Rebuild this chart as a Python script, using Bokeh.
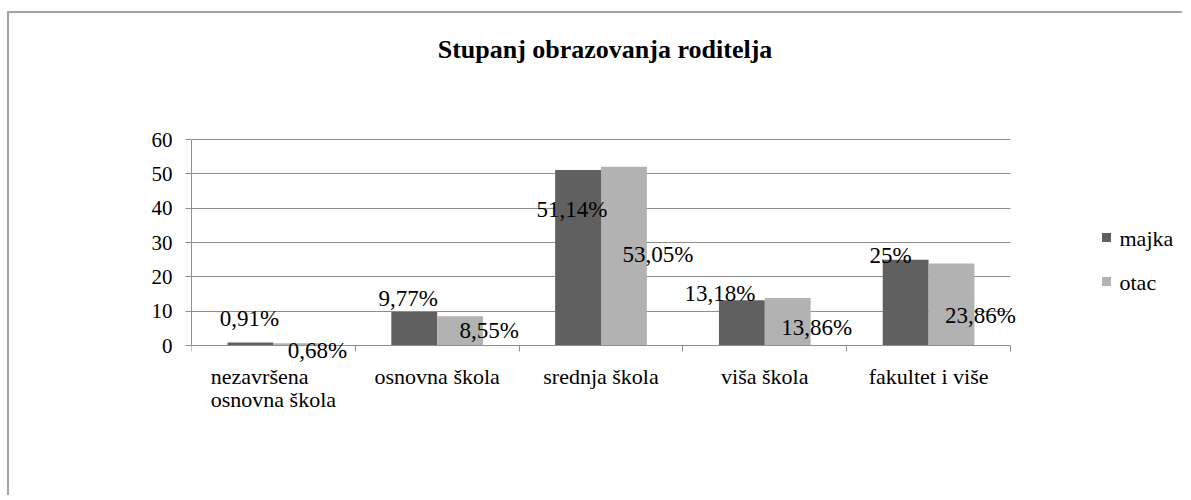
from bokeh.plotting import figure
from bokeh.models import (ColumnDataSource, FixedTicker, Label, LabelSet, Range1d, Grid)
from bokeh.embed import file_html
from bokeh.resources import INLINE

# ---- data ----
categories = ["nezavršena\nosnovna škola", "osnovna škola", "srednja škola",
              "viša škola", "fakultet i više"]
majka = [0.91, 9.77, 51.14, 13.18, 25.0]
otac = [0.68, 8.55, 52.05, 13.86, 23.86]
majka_labels = ["0,91%", "9,77%", "51,14%", "13,18%", "25%"]
otac_labels = ["0,68%", "8,55%", "53,05%", "13,86%", "23,86%"]
series_names = ["majka", "otac"]
y_ticks = [0, 10, 20, 30, 40, 50, 60]

# ---- layout constants (data-label placement as in the original) ----
majka_label_y = [5.8, 11.65, 37.3, 13.1, 23.9]      # baseline, data units
otac_label_y = [-3.5, 2.33, 24.2, 3.2, 6.7]
majka_label_dx = [-1, -6, -6, -22, -15]              # px from bar centre
otac_label_dx = [21, 29, 34, 29, 29]

SERIF = "'Liberation Serif', 'Times New Roman', serif"
SANS = "'Liberation Sans', Arial, sans-serif"
C_MAJKA = "#606060"
C_OTAC = "#b2b2b2"
colors = [C_MAJKA, C_OTAC]
GRID = "#8e8e8e"

n = len(categories)
centers = [i + 0.5 for i in range(n)]
x_m = [c - 0.14 for c in centers]
x_o = [c + 0.14 for c in centers]

W, H = 1175, 484
LEFT = 182
px_per_x = 163.8
px_per_y = 206 / 60
x_max = (W - LEFT) / px_per_x

p = figure(width=W, height=H, output_backend="svg", toolbar_location=None,
           x_range=Range1d(0, x_max), y_range=Range1d(-44.27, 96.70),
           min_border_left=LEFT, min_border_top=0, min_border_right=0,
           min_border_bottom=0)
p.styles = {"border-top": "2px solid #a3a3a3", "border-left": "2px solid #a3a3a3",
            "margin-left": "7px", "margin-top": "11px"}
p.outline_line_color = None
p.background_fill_color = "white"

src = ColumnDataSource(dict(xm=x_m, xo=x_o, majka=majka, otac=otac,
                            ml=majka_labels, ol=otac_labels,
                            mly=majka_label_y, oly=otac_label_y,
                            mdx=majka_label_dx, odx=otac_label_dx))

p.vbar(x="xm", top="majka", width=0.28, source=src, fill_color=C_MAJKA,
       line_color=None)
p.vbar(x="xo", top="otac", width=0.28, source=src, fill_color=C_OTAC,
       line_color=None)

# grid
p.xgrid.visible = False
p.ygrid.ticker = FixedTicker(ticks=y_ticks[1:])
p.ygrid.grid_line_color = GRID
p.ygrid.grid_line_width = 1
if "cross_bounds" in Grid.properties():
    p.ygrid.cross_bounds = (0, n)

# y axis
p.yaxis.ticker = FixedTicker(ticks=y_ticks)
p.yaxis.bounds = (0, 60)
p.yaxis.axis_line_color = GRID
p.yaxis.major_tick_line_color = GRID
p.yaxis.major_tick_out = 6
p.yaxis.major_tick_in = 0
p.yaxis.minor_tick_line_color = None
p.yaxis.major_label_text_font = SERIF
p.yaxis.major_label_text_font_size = "21px"
p.yaxis.major_label_text_color = "black"
p.yaxis.major_label_standoff = 13

# x axis (category boundaries as ticks; category names drawn below)
p.xaxis.fixed_location = 0
p.xaxis.bounds = (0, n)
p.xaxis.ticker = FixedTicker(ticks=[], minor_ticks=list(range(n + 1)))
p.xaxis.axis_line_color = GRID
p.xaxis.major_tick_line_color = None
p.xaxis.minor_tick_line_color = GRID
p.xaxis.minor_tick_out = 6
p.xaxis.minor_tick_in = 0

cat_src = ColumnDataSource(dict(x=centers, y=[-5.3] * n, text=categories))
p.add_layout(LabelSet(x="x", y="y", text="text", source=cat_src,
                      text_align="center", text_baseline="top",
                      text_line_height=0.95,
                      text_font=SERIF, text_font_size="22px", text_color="black"))

# data labels
p.add_layout(LabelSet(x="xm", y="mly", text="ml", source=src, x_offset="mdx",
                      text_align="center", text_baseline="alphabetic",
                      text_font=SANS, text_font_size="23px", text_color="black"))
p.add_layout(LabelSet(x="xo", y="oly", text="ol", source=src, x_offset="odx",
                      text_align="center", text_baseline="alphabetic",
                      text_font=SANS, text_font_size="23px", text_color="black"))

# title
p.add_layout(Label(x=n / 2, y=86.2, x_offset=4, text="Stupanj obrazovanja roditelja",
                   text_align="center", text_baseline="alphabetic",
                   text_font=SERIF, text_font_size="26px",
                   text_font_style="bold", text_color="black"))

# legend (keys right of the plot area)
leg_x = n + 96 / px_per_x
leg_y = [108 / px_per_y, 64 / px_per_y]
p.scatter(x=[leg_x] * 2, y=leg_y, marker="square", size=9,
          fill_color=colors, line_color=None)
leg_src = ColumnDataSource(dict(x=[leg_x] * 2, y=leg_y, text=series_names))
p.add_layout(LabelSet(x="x", y="y", text="text", source=leg_src, x_offset=13,
                      y_offset=-1, text_align="left", text_baseline="middle",
                      text_font=SERIF, text_font_size="22px", text_color="black"))

open("out.html", "w").write(file_html(p, INLINE))
